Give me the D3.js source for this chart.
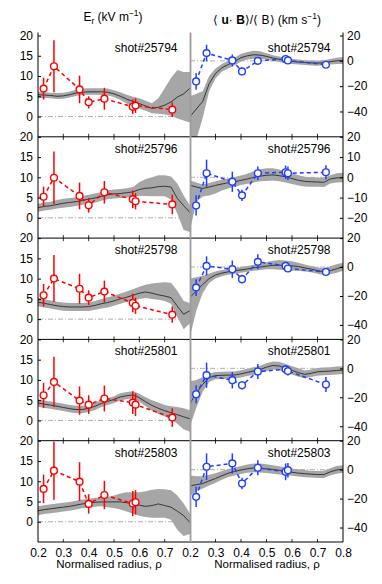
<!DOCTYPE html>
<html>
<head>
<meta charset="utf-8">
<script src="https://cdn.jsdelivr.net/npm/d3@7"></script>
<style>
body { margin: 0; background: #fff; }
text { font-family: "Liberation Sans", Arial, sans-serif; fill: #000; }
</style>
</head>
<body>
<script>
// ---- data ----
var rhoGrid = [0.2, 0.225, 0.25, 0.275, 0.3, 0.325, 0.35, 0.375, 0.4, 0.425, 0.45, 0.475,
    0.5, 0.525, 0.55, 0.575, 0.6, 0.625, 0.65, 0.675, 0.7, 0.725, 0.75, 0.775, 0.8];
var rhoRed = [0.222, 0.263, 0.364, 0.400, 0.462, 0.574, 0.585, 0.730];
var rhoBlue = [0.224, 0.265, 0.366, 0.404, 0.466, 0.575, 0.584, 0.733];
var shots = ["shot#25794", "shot#25796", "shot#25798", "shot#25801", "shot#25803"];
var erTicks = [0, 5, 10, 15, 20];
var rhoTicks = [0.2, 0.3, 0.4, 0.5, 0.6, 0.7, 0.8];

// E_r model line and band, kV/m
var er25794 = [5.4,5.3,5.2,5.0,5.1,5.4,5.8,6.0,6.1,6.1,6.1,6.0,5.6,5.0,4.3,3.7,3.2,2.6,2.0,2.3,2.8,3.6,4.8,5.6,7.0];
var er25794Hi = [6.1,6.0,5.9,5.8,5.9,6.2,6.6,6.9,7.0,7.0,7.0,6.9,6.5,6.0,5.4,4.9,4.5,3.9,3.3,4.5,7.0,9.5,11.5,11.0,11.0];
var er25794Lo = [4.6,4.6,4.5,4.3,4.4,4.7,5.1,5.3,5.4,5.4,5.3,5.2,4.8,4.1,3.2,2.5,2.0,1.4,0.8,0.7,0.5,0.2,-0.5,-1.0,-1.5];
var er25796 = [2.5,2.8,3.0,3.3,3.6,3.8,4.0,4.3,4.6,4.9,5.3,5.7,5.9,6.0,6.2,6.4,7.0,7.3,7.4,7.7,7.8,7.6,4.8,3.0,1.3];
var er25796Hi = [3.5,3.8,4.0,4.4,4.7,4.9,5.1,5.4,5.7,6.0,6.4,6.8,7.0,7.1,7.3,7.6,8.8,9.6,10.0,10.5,10.5,10.2,8.5,5.5,3.0];
var er25796Lo = [1.5,1.8,2.0,2.3,2.5,2.7,2.9,3.2,3.5,3.8,4.2,4.6,4.8,4.9,5.0,5.2,5.4,5.4,5.3,5.3,5.3,4.5,1.0,-3.0,-3.5];
var er25798 = [4.2,3.9,3.6,3.3,3.1,3.0,3.0,3.0,3.1,3.4,3.8,4.1,4.5,5.0,5.4,5.9,6.4,6.7,6.4,6.0,5.7,5.3,3.2,1.2,2.1];
var er25798Hi = [5.2,4.9,4.6,4.3,4.1,4.0,4.0,4.0,4.1,4.5,5.0,5.4,5.8,6.3,6.8,7.4,8.0,8.5,8.8,9.0,9.1,9.0,7.0,4.5,4.0];
var er25798Lo = [3.2,2.9,2.6,2.3,2.1,2.0,2.0,2.0,2.0,2.3,2.6,2.9,3.3,3.8,4.2,4.6,5.0,5.2,5.0,4.8,4.5,3.8,0.5,-2.5,-1.0];
var er25801 = [4.3,4.0,3.8,3.5,3.2,2.9,2.7,2.7,3.0,3.5,4.2,4.7,5.2,5.8,6.1,6.3,5.6,4.6,3.7,3.0,2.4,1.9,1.4,0.9,0.4];
var er25801Hi = [5.2,4.9,4.7,4.4,4.1,3.8,3.6,3.6,3.9,4.4,5.0,5.5,6.0,6.7,7.0,7.2,6.6,5.7,5.0,4.4,3.8,3.5,3.3,3.0,2.5];
var er25801Lo = [3.4,3.1,2.9,2.6,2.3,2.0,1.8,1.8,2.1,2.6,3.3,3.8,4.3,4.9,5.2,5.4,4.6,3.5,2.4,1.6,1.0,0.3,-0.8,-2.2,-2.8];
var er25803 = [2.7,3.0,3.2,3.4,3.6,3.8,4.1,4.4,4.6,4.8,4.9,4.9,4.9,4.9,4.7,4.4,4.1,3.8,4.0,4.4,4.0,3.6,2.6,1.5,-0.2];
var er25803Hi = [3.8,4.1,4.3,4.5,4.7,4.9,5.2,5.5,5.7,5.9,6.0,6.1,6.5,7.0,7.3,7.3,7.3,7.5,7.9,8.1,8.0,7.8,6.5,4.5,2.0];
var er25803Lo = [1.6,1.9,2.1,2.3,2.5,2.7,3.0,3.3,3.5,3.7,3.8,3.6,3.4,3.0,2.5,2.0,1.5,1.2,1.0,1.0,1.0,0.5,-2.0,-3.5,-3.0];

// <u.B>/<B> model line and band, km/s
var ub25794 = [-44,-38,-32,-18,-10,-5.5,-3,-0.5,2.5,4,4.8,4.5,3.5,2.2,1.2,0.3,-0.5,-1,-1.3,-1.6,-1.8,-1.5,-0.6,0,0.3];
var ub25794Hi = [-28,-26,-24,-12,-6,-2.5,0,2.5,5.5,7,8,7.5,6,4.5,3.5,2.5,1.5,1,0.5,0.2,0,0.5,1.5,2.5,3];
var ub25794Lo = [-70,-62,-45,-24,-14,-8.5,-6,-3.5,-0.5,1,1.6,1.5,1,0,-1,-2,-2.5,-3,-3.3,-3.6,-3.8,-3.5,-3,-2.5,-2.5];
var ub25796 = [-3.9,-4.8,-5.5,-4.8,-4.0,-3.3,-2.7,-2.2,-1.5,-0.8,0,0.6,1.0,1.2,0.8,0.3,-0.6,-1.5,-2.0,-2.2,-2.3,-2.5,-0.8,-0.3,-0.2];
var ub25796Hi = [-1.5,-2.5,-3.5,-2.8,-2,-1.2,-0.5,0.2,0.9,1.8,3.0,4.0,4.5,4.5,3.8,3.0,2.0,1.0,0.3,0,-0.1,-0.2,1.0,2.0,2.2];
var ub25796Lo = [-26,-12,-9.5,-9,-8,-6.5,-5.5,-4.6,-3.8,-3.2,-2.5,-2.0,-1.8,-1.6,-2,-2.5,-3.3,-4,-4.5,-4.6,-4.6,-4.8,-3,-2.5,-2.4];
var ub25798 = [-21,-16.5,-12,-8,-5.5,-4.2,-3.3,-2.6,-2,-1.3,-0.5,0,0.6,1.2,1.3,1.1,0.8,0.3,-0.6,-1.4,-2.4,-3.3,-2.5,-1.2,0.4];
var ub25798Hi = [-8,-7,-6,-4.5,-3,-2,-1.2,-0.5,0,0.7,1.5,2.2,3.3,4.3,4.8,4.6,4.0,3.0,1.8,0.8,-0.2,-1.0,0.5,2.0,3.0];
var ub25798Lo = [-48,-30,-18,-11,-8,-6.4,-5.4,-4.7,-4,-3.3,-2.5,-2,-1.6,-1.5,-1.8,-2.2,-2.5,-2.6,-3,-3.6,-4.6,-5.5,-5,-4,-2.5];
var ub25801 = [-24.4,-17,-11,-6.5,-5,-4.8,-4.7,-4.6,-3.8,-2.8,-1.8,-0.8,0.8,2,1.6,0,-1.4,-3,-4.2,-3.4,-2.4,-2.1,-1.9,-1.5,-1.2];
var ub25801Hi = [-9,-8,-6,-3.5,-2.5,-2.3,-2.2,-2.1,-1.3,-0.3,0.8,1.8,3.5,4.8,4.5,3,1.5,0,-1.5,-0.8,0.3,0.6,0.8,1.2,1.5];
var ub25801Lo = [-40,-27,-16,-9.5,-7.5,-7.3,-7.2,-7.1,-6.3,-5.3,-4.4,-3.4,-1.9,-0.8,-1.3,-3,-4.3,-5.8,-6.9,-6.0,-5.1,-4.8,-4.6,-4.2,-3.9];
var ub25803 = [-11.2,-10.4,-9.6,-7.8,-6.1,-4.2,-2.5,-1.2,-0.2,0.6,1.2,1.0,0.5,0.1,-0.5,-1.2,-1.8,-2.4,-2.8,-3.1,-3.4,-3.4,-1.5,-0.2,0.3];
var ub25803Hi = [-4,-4.5,-4.5,-3.5,-2.5,-1,0.5,1.5,2.5,3.5,4.2,4.3,3.7,3.0,2.3,1.5,0.8,0.2,-0.3,-0.7,-1,-0.8,1,2.5,3];
var ub25803Lo = [-18,-15,-13,-11,-9,-7,-5,-4,-3,-2.2,-1.8,-2,-2.3,-2.8,-3.3,-3.8,-4.3,-4.8,-5.2,-5.5,-5.8,-5.8,-4,-2.8,-2.2];

// measured points (red: E_r, blue: <u.B>/<B>) with error bar half-lengths
var erPts25794 = [6.9,12.4,6.7,3.5,4.4,2.4,2.7,1.7], erErr25794 = [2.7,6.4,3.4,1.5,2.7,1.8,1.8,1.8];
var erPts25796 = [5.2,9.9,5.4,3.1,6.3,4.6,4.1,3.3], erErr25796 = [2.5,6.5,3.3,1.8,2.8,2.2,2.0,2.4];
var erPts25798 = [5.9,10.0,7.5,5.3,6.8,4.0,3.3,1.1], erErr25798 = [2.8,5.8,3.7,1.8,2.7,2.3,2.0,2.0];
var erPts25801 = [6.2,9.5,4.9,3.9,5.4,4.4,3.9,0.7], erErr25801 = [3.1,6.2,3.5,2.3,3.2,2.8,2.8,2.3];
var erPts25803 = [8.1,12.6,9.9,4.4,6.6,4.5,4.8], erErr25803 = [3.5,7.2,4.8,2.4,3.5,3.1,3.0];

var ubPts25794 = [-16.3,6.1,0.3,-8.4,0,1.4,0.3,-3.1], ubErr25794 = [6.6,6.6,4.7,3,3,2.5,2.5,2.5];
var ubPts25796 = [-13.9,2,-2.2,-8.9,2,2.5,2,2.5], ubErr25796 = [5,6.7,5,2.8,3.3,3.3,3.3,3.5];
var ubPts25798 = [-14.2,0.8,-1.5,-8.4,3.6,0.8,-1,-3.4], ubErr25798 = [5.8,6.6,6,3,5.2,2.5,2.5,2];
var ubPts25801 = [-17.9,-4.7,-8.2,-11.7,-2.2,-0.7,-1.9,-11.2], ubErr25801 = [6.3,8.7,5.7,3,5.2,3,3,5.2];
var ubPts25803 = [-18.8,2,4.3,-9.6,1.3,-1.5,-0.4], ubErr25803 = [7,9.2,6.9,4,5.2,5.8,5];

var ubDomains = [[-60, 20], [-30, 20], [-50, 20], [-50, 20], [-50, 20]];
var ubTicks = [[-40, -20, 0, 20], [-20, -10, 0, 10, 20], [-40, -20, 0, 20], [-40, -20, 0, 20], [-40, -20, 0, 20]];

var rows = [
    {shot: shots[0], er: [er25794, er25794Lo, er25794Hi], ub: [ub25794, ub25794Lo, ub25794Hi], erP: erPts25794, erE: erErr25794, ubP: ubPts25794, ubE: ubErr25794},
    {shot: shots[1], er: [er25796, er25796Lo, er25796Hi], ub: [ub25796, ub25796Lo, ub25796Hi], erP: erPts25796, erE: erErr25796, ubP: ubPts25796, ubE: ubErr25796},
    {shot: shots[2], er: [er25798, er25798Lo, er25798Hi], ub: [ub25798, ub25798Lo, ub25798Hi], erP: erPts25798, erE: erErr25798, ubP: ubPts25798, ubE: ubErr25798},
    {shot: shots[3], er: [er25801, er25801Lo, er25801Hi], ub: [ub25801, ub25801Lo, ub25801Hi], erP: erPts25801, erE: erErr25801, ubP: ubPts25801, ubE: ubErr25801},
    {shot: shots[4], er: [er25803, er25803Lo, er25803Hi], ub: [ub25803, ub25803Lo, ub25803Hi], erP: erPts25803, erE: erErr25803, ubP: ubPts25803, ubE: ubErr25803}
];

// ---- layout ----
var width = 382, height = 584;
var top0 = 35.5, panelH = 101.3;
var bottom = top0 + 5 * panelH;

var svg = d3.select("body").append("svg")
    .attr("width", width)
    .attr("height", height);

var xLeft = d3.scaleLinear().domain([0.2, 0.8]).range([38, 190]);
var xRight = d3.scaleLinear().domain([0.2, 0.8]).range([190, 343]);

var red = "#ff0000", blue = "#1f3fff";

function drawPanel(g, x, y, model, rho, pts, err, color, clipId, x0, x1, yTop) {
    g.append("clipPath").attr("id", clipId)
        .append("rect")
        .attr("x", x0).attr("y", yTop)
        .attr("width", x1 - x0).attr("height", panelH);

    var clipped = g.append("g").attr("clip-path", "url(#" + clipId + ")");

    // zero reference
    clipped.append("line")
        .attr("x1", x0).attr("x2", x1)
        .attr("y1", y(0)).attr("y2", y(0))
        .attr("stroke", "#9a9a9a")
        .attr("stroke-width", 0.8)
        .attr("stroke-dasharray", "5,2,1,2");

    var band = d3.area()
        .x(function(d, i) { return x(rhoGrid[i]); })
        .y0(function(d, i) { return y(model[1][i]); })
        .y1(function(d, i) { return y(model[2][i]); });
    clipped.append("path")
        .attr("d", band(model[0]))
        .attr("fill", "#a6a6a6");

    var line = d3.line()
        .x(function(d, i) { return x(rhoGrid[i]); })
        .y(function(d) { return y(d); });
    clipped.append("path")
        .attr("d", line(model[0]))
        .attr("fill", "none")
        .attr("stroke", "#1a1a1a")
        .attr("stroke-width", 0.8);

    var p = pts.map(function(v, i) { return [rho[i], v, err[i]]; });

    var conn = d3.line()
        .x(function(d) { return x(d[0]); })
        .y(function(d) { return y(d[1]); });
    g.append("path")
        .attr("d", conn(p))
        .attr("fill", "none")
        .attr("stroke", color)
        .attr("stroke-width", 1.5)
        .attr("stroke-dasharray", "4,3");

    g.selectAll(".eb").data(p).enter().append("line")
        .attr("x1", function(d) { return x(d[0]); })
        .attr("x2", function(d) { return x(d[0]); })
        .attr("y1", function(d) { return y(d[1] - d[2]); })
        .attr("y2", function(d) { return y(d[1] + d[2]); })
        .attr("stroke", color)
        .attr("stroke-width", 1.5);

    g.selectAll(".pt").data(p).enter().append("circle")
        .attr("cx", function(d) { return x(d[0]); })
        .attr("cy", function(d) { return y(d[1]); })
        .attr("r", 3.4)
        .attr("fill", "#fff")
        .attr("stroke", color)
        .attr("stroke-width", 1.4);
}

rows.forEach(function(row, i) {
    var yTop = top0 + i * panelH;
    var yEr = d3.scaleLinear().domain([-5, 20]).range([yTop + panelH, yTop]);
    var yUb = d3.scaleLinear().domain(ubDomains[i]).range([yTop + panelH, yTop]);

    var gl = svg.append("g");
    drawPanel(gl, xLeft, yEr, row.er, rhoRed, row.erP, row.erE, red, "cl" + i, 38, 190, yTop);
    var gr = svg.append("g");
    drawPanel(gr, xRight, yUb, row.ub, rhoBlue, row.ubP, row.ubE, blue, "cr" + i, 190, 343, yTop);

    // y axes
    var axL = svg.append("g").attr("transform", "translate(38,0)")
        .call(d3.axisLeft(yEr).tickValues(erTicks).tickSize(-3).tickPadding(5));
    var axR = svg.append("g").attr("transform", "translate(343,0)")
        .call(d3.axisRight(yUb).tickValues(ubTicks[i]).tickSize(-3).tickPadding(4));
    [axL, axR].forEach(function(a) {
        a.select(".domain").remove();
        a.selectAll("text").style("font-size", "12px").style("font-family", "Liberation Sans, Arial, sans-serif");
    });

    // separator at the bottom of each row, with inward ticks on both sides
    var yb = yTop + panelH;
    svg.append("line")
        .attr("x1", 38).attr("x2", 343)
        .attr("y1", yb).attr("y2", yb)
        .attr("stroke", "#000").attr("stroke-width", 1);
    [xLeft, xRight].forEach(function(x) {
        svg.selectAll(null).data(rhoTicks.slice(1, 6)).enter().append("line")
            .attr("x1", function(d) { return x(d); })
            .attr("x2", function(d) { return x(d); })
            .attr("y1", yb - 3)
            .attr("y2", i < 4 ? yb + 3 : yb)
            .attr("stroke", "#000").attr("stroke-width", 0.8);
    });

    svg.append("text")
        .attr("x", 177.5).attr("y", yTop + 16)
        .attr("text-anchor", "end")
        .style("font-size", "12px")
        .text(row.shot);
    svg.append("text")
        .attr("x", 330.5).attr("y", yTop + 16)
        .attr("text-anchor", "end")
        .style("font-size", "12px")
        .text(row.shot);
});

// frame lines
svg.append("line").attr("x1", 38).attr("x2", 38).attr("y1", top0 - 3).attr("y2", bottom)
    .attr("stroke", "#000").attr("stroke-width", 1);
svg.append("line").attr("x1", 343).attr("x2", 343).attr("y1", top0 - 3).attr("y2", bottom)
    .attr("stroke", "#000").attr("stroke-width", 1);
svg.append("line").attr("x1", 190.5).attr("x2", 190.5).attr("y1", top0 - 3).attr("y2", bottom)
    .attr("stroke", "#9c9c9c").attr("stroke-width", 1.8);

// bottom tick labels
var fmt = d3.format(".1f");
var axB1 = svg.append("g").attr("transform", "translate(0," + bottom + ")")
    .call(d3.axisBottom(xLeft).tickValues(rhoTicks.slice(0, 6)).tickFormat(fmt).tickSize(0).tickPadding(6));
var axB2 = svg.append("g").attr("transform", "translate(0," + bottom + ")")
    .call(d3.axisBottom(xRight).tickValues(rhoTicks).tickFormat(fmt).tickSize(0).tickPadding(6));
[axB1, axB2].forEach(function(a) {
    a.select(".domain").remove();
    a.selectAll("text").style("font-size", "12px").style("font-family", "Liberation Sans, Arial, sans-serif");
});

// titles
var t1 = svg.append("text").attr("x", 113).attr("y", 21).attr("text-anchor", "middle").style("font-size", "12px");
t1.append("tspan").text("E");
t1.append("tspan").attr("dy", 3).style("font-size", "8.5px").text("r");
t1.append("tspan").attr("dy", -3).text(" (kV m");
t1.append("tspan").attr("dy", -5).style("font-size", "8.5px").text("\u22121");
t1.append("tspan").attr("dy", 5).text(")");

var t2 = svg.append("text").attr("x", 267).attr("y", 24).attr("text-anchor", "middle").style("font-size", "12px");
t2.append("tspan").text("\u27E8 ");
t2.append("tspan").style("font-weight", "bold").text("u");
t2.append("tspan").text("\u00B7 ");
t2.append("tspan").style("font-weight", "bold").text("B");
t2.append("tspan").text("\u27E9/\u27E8 B\u27E9 (km s");
t2.append("tspan").attr("dy", -5).style("font-size", "8.5px").text("\u22121");
t2.append("tspan").attr("dy", 5).text(")");

svg.append("text").attr("x", 109).attr("y", 568).attr("text-anchor", "middle")
    .style("font-size", "11.5px").text("Normalised radius, \u03C1");
svg.append("text").attr("x", 267).attr("y", 568).attr("text-anchor", "middle")
    .style("font-size", "11.5px").text("Normalised radius, \u03C1");
</script>
</body>
</html>
